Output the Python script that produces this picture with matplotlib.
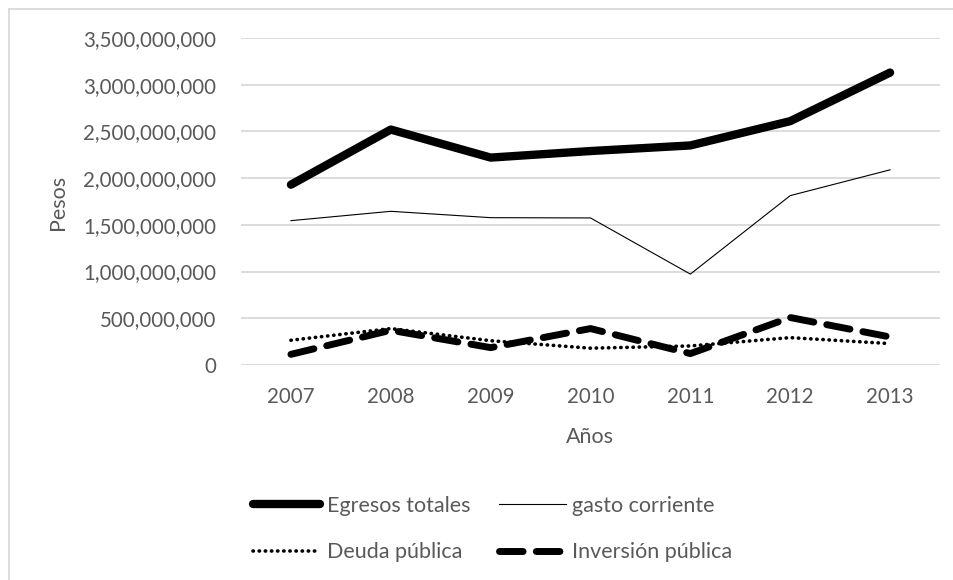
import matplotlib.pyplot as plt
from matplotlib.ticker import FuncFormatter
from matplotlib.lines import Line2D

plt.rcParams['font.family'] = ['Lato', 'DejaVu Sans']

# Datos (pesos por año)
anios = ['2007', '2008', '2009', '2010', '2011', '2012', '2013']
egresos_totales = [1.93e9, 2.52e9, 2.22e9, 2.29e9, 2.35e9, 2.61e9, 3.13e9]
gasto_corriente = [1.545e9, 1.645e9, 1.577e9, 1.574e9, 0.973e9, 1.813e9, 2.089e9]
deuda_publica = [0.265e9, 0.39e9, 0.26e9, 0.18e9, 0.204e9, 0.293e9, 0.229e9]
inversion_publica = [0.114e9, 0.372e9, 0.186e9, 0.39e9, 0.122e9, 0.508e9, 0.30e9]

gris = '#595959'

fig = plt.figure(figsize=(9.54, 5.8), dpi=100)
W, H = 954, 580
ax = fig.add_axes([241 / W, 1 - 365 / H, (940 - 241) / W, (365 - 38) / H])

x = range(len(anios))
l1, = ax.plot(x, egresos_totales, color='black', lw=6, solid_capstyle='round',
              solid_joinstyle='round', label='Egresos totales')
l2, = ax.plot(x, gasto_corriente, color='black', lw=0.8, label='gasto corriente')
l3, = ax.plot(x, deuda_publica, color='black', lw=2.6, linestyle=(0, (0.1, 1.6)),
              dash_capstyle='round', label='Deuda pública')
l4, = ax.plot(x, inversion_publica, color='black', lw=5, linestyle=(0, (3.4, 1.9)),
              dash_capstyle='round', label='Inversión pública')

ax.set_xlim(-0.5, len(anios) - 0.5)
ax.set_ylim(0, 3.5e9)
ax.set_yticks([i * 5e8 for i in range(8)])
ax.yaxis.set_major_formatter(FuncFormatter(lambda v, p: f'{v:,.0f}'))
ax.set_xticks(list(x))
ax.set_xticklabels(anios)
ax.grid(axis='y', color='#d9d9d9', lw=1.3)
ax.set_axisbelow(True)
for s in ax.spines.values():
    s.set_visible(False)
ax.tick_params(length=0, labelsize=14.8, colors=gris, pad=18)
ax.tick_params(axis='x', pad=16)

ax.set_ylabel('Pesos', fontsize=15.5, color=gris)
ax.set_xlabel('Años', fontsize=15.5, color=gris)
ax.yaxis.set_label_coords(68 / W, 1 - 202 / H, transform=fig.transFigure)
ax.xaxis.set_label_coords(590 / W, 1 - 427 / H, transform=fig.transFigure)

# marco del gráfico
fig.add_artist(Line2D([9 / W, 9 / W], [0, 1 - 9 / H], color='#d9d9d9', lw=1.3))
fig.add_artist(Line2D([9 / W, 1], [1 - 9 / H, 1 - 9 / H], color='#d9d9d9', lw=1.3))

# leyenda en dos filas: se llena por columnas
leg = fig.legend([l1, l3, l2, l4],
                 [l.get_label() for l in (l1, l3, l2, l4)],
                 loc='center', bbox_to_anchor=(493 / W, 1 - 529 / H), ncol=2,
                 frameon=False, fontsize=15.5, handlelength=3.1, handletextpad=0.3,
                 columnspacing=1.35, labelspacing=1.25)
for t in leg.get_texts():
    t.set_color(gris)

fig.savefig('out.png', dpi=100, facecolor='white')
